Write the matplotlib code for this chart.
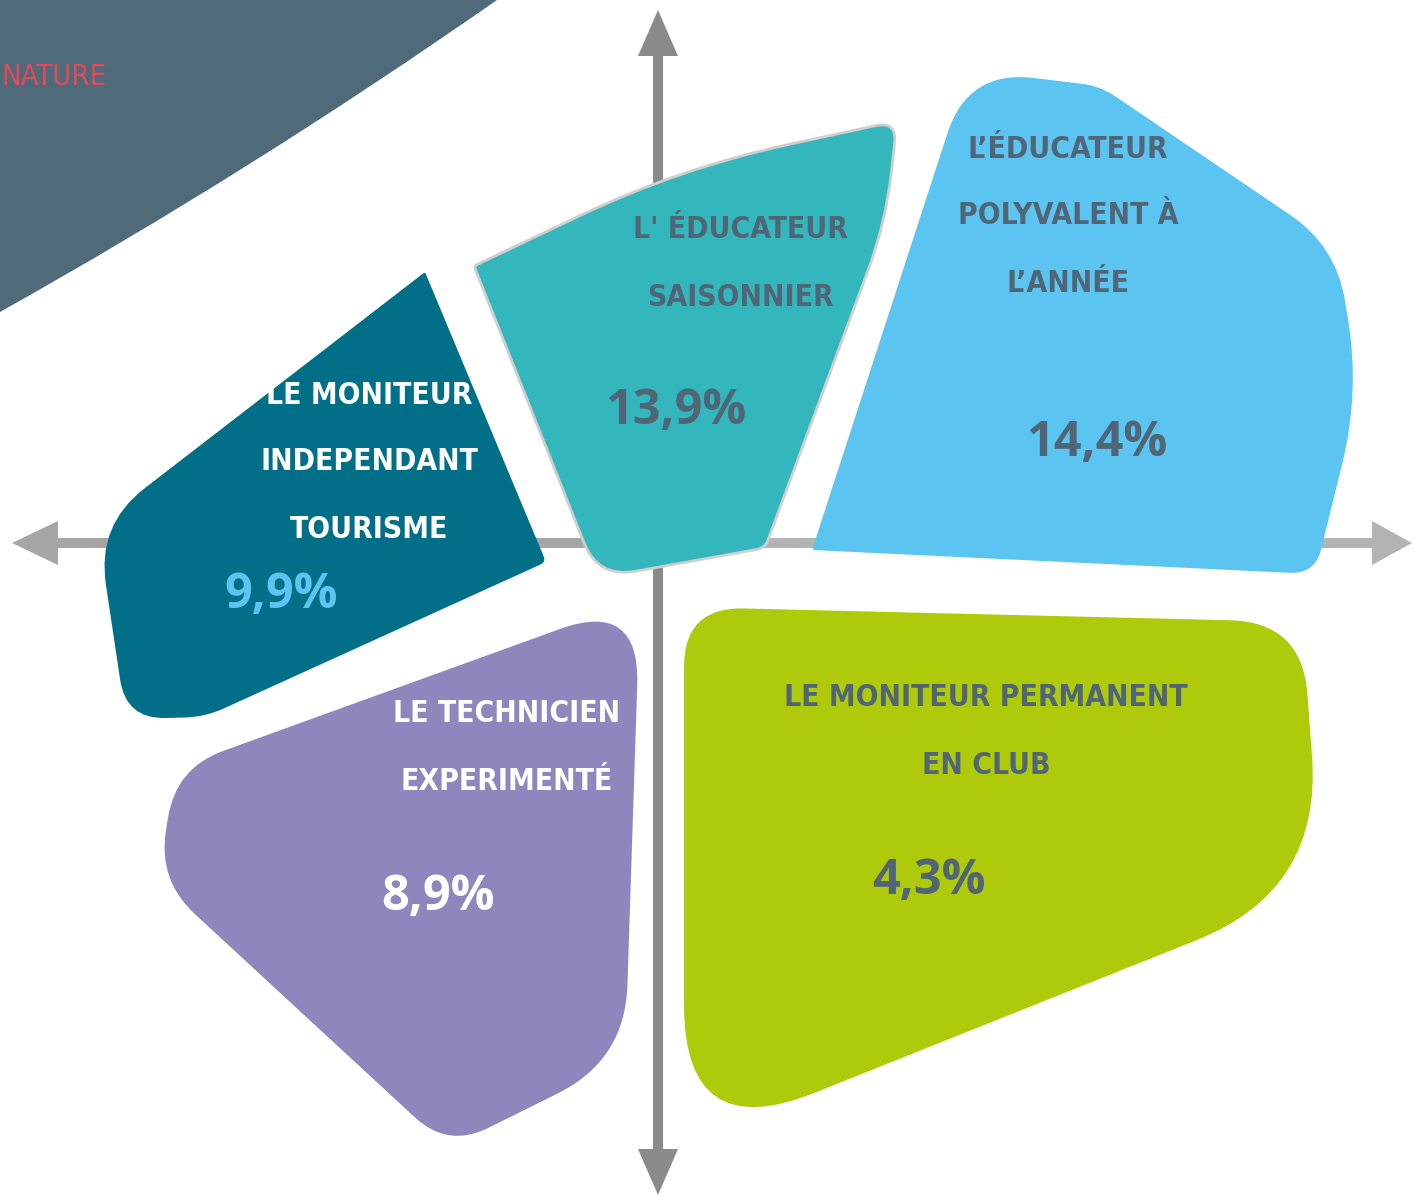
import numpy as np
import matplotlib
matplotlib.use("Agg")
import matplotlib.pyplot as plt
from matplotlib.path import Path
from matplotlib.patches import PathPatch, FancyArrow

# ---------------- data ----------------
categories = [
    "L' ÉDUCATEUR\nSAISONNIER",
    "L’ÉDUCATEUR\nPOLYVALENT À\nL’ANNÉE",
    "LE MONITEUR\nINDEPENDANT\nTOURISME",
    "LE TECHNICIEN\nEXPERIMENTÉ",
    "LE MONITEUR PERMANENT\nEN CLUB",
]
values = [13.9, 14.4, 9.9, 8.9, 4.3]
corner_label = "NATURE"

# ---------------- styles ----------------
fill_colors = ["#33b6bc", "#5bc4f1", "#016f88", "#8f86bd", "#afca0b"]
label_colors = ["#506575", "#506575", "#ffffff", "#ffffff", "#506575"]
value_colors = ["#506575", "#506575", "#5bc4f1", "#ffffff", "#506575"]
label_pos = [(740, 230), (1068, 149), (369, 395), (507, 714), (986, 698)]
value_pos = [(676, 412), (1097, 443), (281, 595), (438, 898), (929, 882)]
line_step = 67

# blob outlines (decorative shapes): (x, y, corner radius) in pixel space
shapes = [
    [(474, 266, 3), (680, 168, 260), (897, 121, 22), (886, 222, 90),
     (765, 548, 8), (598, 578, 38)],
    [(812, 550, 3), (968, 70, 80), (1100, 86, 18), (1336, 246, 55),
     (1360, 392, 150), (1315, 574, 25)],
    [(425, 272, 2), (546, 562, 6), (205, 717, 20), (126, 719, 40), (97, 525, 60)],
    [(640, 600, 85), (625, 1060, 75), (448, 1148, 45), (158, 880, 50),
     (176, 768, 50)],
    [(684, 607, 60), (1302, 622, 72), (1322, 890, 165), (684, 1145, 140)],
]

W, H = 1414, 1197
fig = plt.figure(figsize=(W / 100, H / 100), dpi=100)
ax = fig.add_axes([0, 0, 1, 1])
ax.set_xlim(0, W)
ax.set_ylim(H, 0)
ax.axis("off")


def rounded_path(pts):
    n = len(pts)
    verts, codes = [], []
    for i in range(n):
        p0 = np.array(pts[i - 1][:2], float)
        p1 = np.array(pts[i][:2], float)
        p2 = np.array(pts[(i + 1) % n][:2], float)
        r = pts[i][2]
        d1, d2 = p0 - p1, p2 - p1
        l1, l2 = np.linalg.norm(d1), np.linalg.norm(d2)
        r = min(r, l1 / 2, l2 / 2)
        a = p1 + d1 / l1 * r
        b = p1 + d2 / l2 * r
        verts.append(a)
        codes.append(Path.MOVETO if i == 0 else Path.LINETO)
        verts += [p1, b]
        codes += [Path.CURVE3, Path.CURVE3]
    verts.append(verts[0])
    codes.append(Path.CLOSEPOLY)
    return Path(verts, codes)


# background dark slate sweep
bg = Path([(-5, -5), (497, -5), (497, 0), (252, 171), (0, 312), (-5, 312), (-5, -5)],
          [Path.MOVETO, Path.LINETO, Path.LINETO, Path.CURVE3, Path.CURVE3,
           Path.LINETO, Path.CLOSEPOLY])
ax.add_patch(PathPatch(bg, facecolor="#4f6a78", edgecolor="none", zorder=1))
ax.text(1, 77, corner_label, color="#e04a5a", fontsize=21,
        family="DejaVu Sans", fontstretch="condensed",
        ha="left", va="center", zorder=2)

# axes arrows
ax.add_patch(FancyArrow(640, 543, -628, 0, width=10, head_width=44, head_length=46,
                        length_includes_head=True, color="#a6a6a6", lw=0, zorder=2))
ax.add_patch(FancyArrow(640, 543, 772, 0, width=10, head_width=44, head_length=40,
                        length_includes_head=True, color="#b3b3b3", lw=0, zorder=2))
ax.add_patch(FancyArrow(658, 600, 0, -590, width=10, head_width=40, head_length=46,
                        length_includes_head=True, color="#8a8a8a", lw=0, zorder=3))
ax.add_patch(FancyArrow(658, 560, 0, 635, width=10, head_width=40, head_length=46,
                        length_includes_head=True, color="#8a8a8a", lw=0, zorder=3))

# blobs
for i, pts in enumerate(shapes):
    ec = "#cfcfcf" if i == 0 else "none"
    ax.add_patch(PathPatch(rounded_path(pts), facecolor=fill_colors[i],
                           edgecolor=ec, lw=2, zorder=5))

head_font = dict(family="DejaVu Sans", fontstretch="condensed", weight="bold",
                 fontsize=21.5)
val_font = dict(family="Open Sans", weight="bold", fontsize=35)

for i, cat in enumerate(categories):
    x0, y0 = label_pos[i]
    for k, line in enumerate(cat.split("\n")):
        ax.text(x0, y0 + k * line_step, line, color=label_colors[i],
                ha="center", va="center", zorder=6, **head_font)
    vx, vy = value_pos[i]
    ax.text(vx, vy, f"{values[i]:.1f}".replace(".", ",") + "%",
            color=value_colors[i], ha="center", va="center", zorder=6, **val_font)

fig.savefig("out.png", dpi=100)
